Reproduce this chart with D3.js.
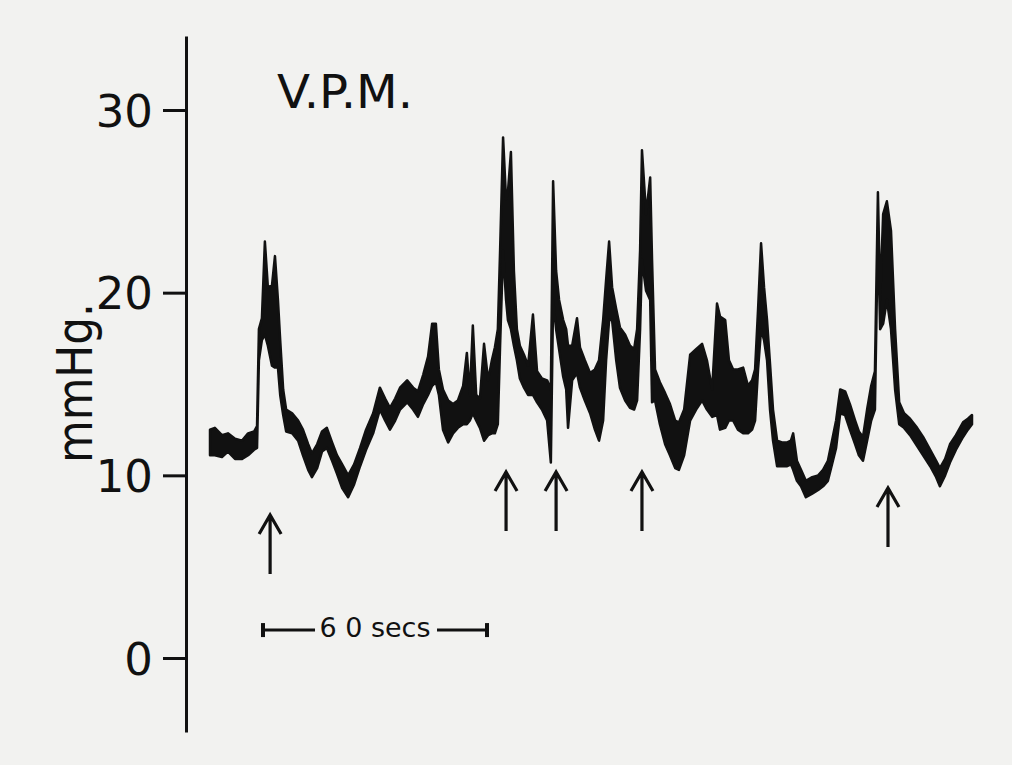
<!DOCTYPE html>
<html>
<head>
<meta charset="utf-8">
<script src="https://cdn.jsdelivr.net/npm/d3@7"></script>
<style>
  html, body { margin: 0; padding: 0; background: #f2f2f0; }
  svg { display: block; }
</style>
</head>
<body>
<svg id="chart" width="1012" height="765"></svg>
<script>
// ---- data (time in seconds, pressure in mmHg) ----
const timeSec = [0.0,1.3,3.2,4.8,6.7,8.6,10.2,11.8,12.6,13.1,13.9,14.7,15.5,16.6,17.4,18.2,18.8,19.6,20.4,22.0,23.6,24.9,26.3,27.3,28.7,30.0,31.3,32.7,34.0,35.4,37.0,38.6,40.2,41.8,43.7,45.5,46.9,48.2,49.6,50.9,52.8,54.4,55.7,57.1,58.4,59.5,60.5,61.3,62.4,63.8,65.1,66.4,67.8,68.8,69.6,70.4,71.3,72.3,73.4,74.5,75.5,76.3,77.1,77.7,78.5,79.3,79.8,80.6,81.4,82.2,83.0,84.1,85.2,86.5,87.6,88.9,90.3,91.3,91.9,92.7,93.5,94.6,95.4,95.9,97.0,98.3,99.1,100.4,101.8,103.1,104.2,105.3,106.1,106.9,107.7,108.8,109.8,111.2,112.5,113.6,114.4,115.2,115.7,116.8,117.9,118.4,119.2,120.5,121.9,123.2,124.6,125.6,127.0,128.6,130.2,131.8,133.1,134.5,135.8,136.6,138.0,139.0,140.1,141.4,142.8,144.1,145.2,146.0,146.8,147.6,148.4,149.2,150.0,150.8,151.9,153.2,154.6,155.6,156.2,157.2,158.3,159.6,161.3,162.9,164.2,165.5,166.6,167.7,168.8,170.1,171.4,172.8,173.8,174.9,176.0,177.1,178.1,178.9,179.5,180.3,181.3,182.4,183.5,184.6,185.9,187.5,189.4,191.0,192.9,194.5,195.5,196.9,198.2,199.8,201.7,203.0,204.1];

const traceUpper = [12.5,12.6,12.2,12.3,12.0,11.9,12.3,12.4,12.7,18.0,18.6,22.8,20.3,20.4,22.0,19.6,17.4,14.7,13.6,13.4,13.0,12.5,11.7,11.2,11.7,12.4,12.6,11.8,11.1,10.6,10.0,10.6,11.5,12.5,13.4,14.8,14.2,13.7,14.2,14.8,15.2,14.8,14.6,15.5,16.5,18.3,18.3,15.8,14.7,14.1,13.9,14.1,14.9,16.7,14.4,18.2,14.4,14.2,17.2,15.2,16.3,17.0,18.0,22.3,28.5,25.1,25.5,27.7,21.2,18.0,17.1,16.6,16.0,18.8,15.7,15.3,15.2,14.7,26.1,21.2,19.6,18.5,18.0,17.1,17.1,18.6,17.0,16.3,15.6,15.8,16.3,18.5,20.7,22.8,20.3,19.1,18.1,17.7,17.1,16.9,18.0,22.3,27.8,24.3,26.3,21.8,15.8,15.1,14.5,13.9,13.0,12.9,13.6,16.6,16.9,17.2,16.3,14.7,19.4,18.7,18.5,16.3,15.8,15.8,15.9,14.9,15.2,15.8,19.1,22.7,20.3,18.5,16.1,13.6,11.9,11.8,11.8,11.9,12.3,10.8,10.3,9.7,9.9,10.0,10.3,10.8,11.9,13.0,14.7,14.6,13.9,13.0,12.4,12.1,13.6,14.9,15.7,25.5,19.6,24.3,25.0,23.4,18.0,14.0,13.4,13.1,12.6,12.1,11.4,10.8,10.4,10.9,11.7,12.2,12.9,13.1,13.3];

const traceLower = [11.1,11.1,11.0,11.3,10.9,10.9,11.1,11.4,11.5,16.3,17.4,17.7,17.1,16.0,15.9,15.9,14.4,13.3,12.4,12.3,11.9,11.1,10.3,9.9,10.4,11.3,11.5,10.8,10.1,9.3,8.8,9.5,10.5,11.4,12.3,13.6,13.0,12.5,13.0,13.6,14.0,13.6,13.2,13.9,14.4,14.9,15.1,14.4,12.5,11.8,12.3,12.6,12.8,12.8,13.0,13.4,13.0,12.6,11.9,12.2,12.3,12.3,12.8,17.1,22.3,19.6,18.5,18.0,17.1,16.3,15.3,14.8,14.4,14.4,14.0,13.6,13.0,10.7,19.6,18.0,16.9,15.4,14.7,12.6,15.2,15.6,14.8,14.1,13.4,12.5,11.9,13.0,16.3,18.5,18.5,16.3,14.8,14.1,13.7,13.6,14.1,18.0,21.8,20.1,19.6,14.0,14.1,12.8,11.7,11.1,10.4,10.3,11.1,13.0,13.6,14.1,13.6,13.2,13.3,12.5,12.6,13.0,13.0,12.5,12.3,12.3,12.5,13.0,15.8,18.0,17.4,16.3,13.6,11.9,10.5,10.5,10.5,10.6,10.3,9.7,9.4,8.8,9.0,9.2,9.4,9.7,10.6,11.5,13.4,13.3,12.5,11.7,11.1,10.8,11.9,13.0,13.6,23.4,18.0,18.3,19.6,18.0,14.7,12.8,12.6,12.2,11.6,11.1,10.5,9.9,9.4,10.0,10.7,11.4,12.1,12.5,12.8];

const yTickValues = [0, 10, 20, 30];
const arrowTimes = [16.1, 79.3, 92.7, 115.7, 181.6];   // s
const arrowTipLevels = [7.83, 10.18, 10.18, 10.18, 9.31]; // mmHg
const scaleBarStart = 14.2;  // s
const scaleBarLength = 60;   // s
const scaleBarLevel = 1.53;  // mmHg
const scaleBarLabel = "6 0 secs";
const titleText = "V.P.M.";
const yLabelText = "mmHg.";

// ---- drawing ----
const svg = d3.select("#chart");
const ink = "#111";

const x = d3.scaleLinear().domain([0, 204.1]).range([210, 972]);
const y = d3.scaleLinear().domain([-4.05, 34.05]).range([732, 36]);

// y axis
const axisX = 186;
const gAxis = svg.append("g")
  .attr("transform", `translate(${axisX},0)`)
  .call(d3.axisLeft(y).tickValues(yTickValues).tickSize(23).tickSizeOuter(0)
        .tickPadding(10).tickFormat(d3.format("d")));
gAxis.select(".domain").attr("stroke", ink).attr("stroke-width", 3);
gAxis.selectAll(".tick line").attr("stroke", ink).attr("stroke-width", 3);
gAxis.selectAll(".tick text")
  .attr("fill", ink)
  .style("font-family", "'DejaVu Sans', sans-serif")
  .style("font-size", "45px")
  .attr("dy", "0.36em");

// y label
svg.append("text")
  .attr("transform", "translate(92,463) rotate(-90)")
  .attr("text-anchor", "start")
  .attr("textLength", 160)
  .attr("lengthAdjust", "spacingAndGlyphs")
  .style("font-family", "'DejaVu Sans', sans-serif")
  .style("font-size", "50px")
  .attr("fill", ink)
  .text(yLabelText);

// title
svg.append("text")
  .attr("x", 277).attr("y", 108)
  .attr("textLength", 136)
  .attr("lengthAdjust", "spacingAndGlyphs")
  .style("font-family", "'DejaVu Sans', sans-serif")
  .style("font-size", "46px")
  .attr("fill", ink)
  .text(titleText);

// trace band
const idx = d3.range(Math.min(timeSec.length, traceUpper.length, traceLower.length));
const area = d3.area()
  .x(i => x(timeSec[i]))
  .y0(i => y(traceLower[i]))
  .y1(i => y(traceUpper[i]));
svg.append("path")
  .datum(idx)
  .attr("d", area)
  .attr("fill", ink)
  .attr("stroke", ink)
  .attr("stroke-width", 2.5)
  .attr("stroke-linejoin", "round");

// arrows
const arrowLen = 59, headW = 11, headH = 19;
svg.append("g").selectAll("path")
  .data(arrowTimes.map((t, i) => ({t, tip: arrowTipLevels[i]})))
  .join("path")
  .attr("d", d => {
    const ax = x(d.t), ty = y(d.tip);
    return `M${ax},${ty + arrowLen}V${ty}M${ax - headW},${ty + headH}L${ax},${ty}L${ax + headW},${ty + headH}`;
  })
  .attr("fill", "none")
  .attr("stroke", ink)
  .attr("stroke-width", 3.2)
  .attr("stroke-linejoin", "miter");

// scale bar
const sbY = y(scaleBarLevel);
const sbX0 = x(scaleBarStart), sbX1 = x(scaleBarStart + scaleBarLength);
const gSb = svg.append("g").attr("stroke", ink).attr("stroke-width", 3);
gSb.append("line").attr("x1", sbX0).attr("x2", sbX0 + 52).attr("y1", sbY).attr("y2", sbY);
gSb.append("line").attr("x1", sbX1 - 50).attr("x2", sbX1).attr("y1", sbY).attr("y2", sbY);
gSb.append("line").attr("x1", sbX0).attr("x2", sbX0).attr("y1", sbY - 7).attr("y2", sbY + 7).attr("stroke-width", 4);
gSb.append("line").attr("x1", sbX1).attr("x2", sbX1).attr("y1", sbY - 7).attr("y2", sbY + 7).attr("stroke-width", 4);
svg.append("text")
  .attr("x", (sbX0 + sbX1) / 2).attr("y", sbY + 7)
  .attr("text-anchor", "middle")
  .attr("textLength", 111)
  .attr("lengthAdjust", "spacingAndGlyphs")
  .style("font-family", "'DejaVu Sans', sans-serif")
  .style("font-size", "27px")
  .attr("fill", ink)
  .text(scaleBarLabel);
</script>
</body>
</html>
